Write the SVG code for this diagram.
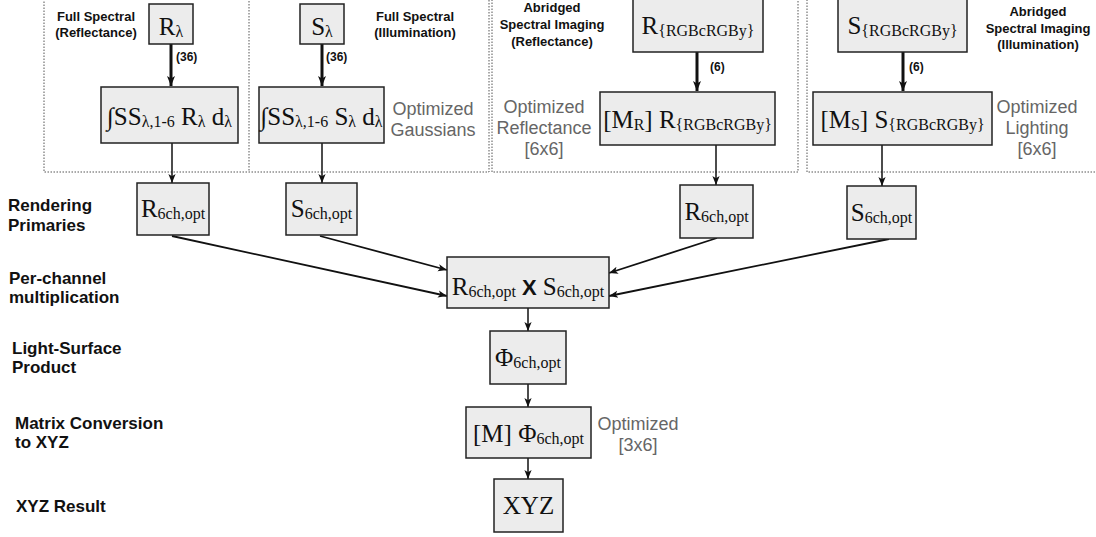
<svg xmlns="http://www.w3.org/2000/svg" width="1096" height="537" viewBox="0 0 1096 537">
<defs>
<style>
.box{fill:#ececec;stroke:#222;stroke-width:1.5}
.panel{fill:none;stroke:#555;stroke-width:1;stroke-dasharray:1.5 1.5}
.m{font-family:"Liberation Serif",serif;font-size:25px;fill:#111}
.s{font-size:16px}
.lab{font-family:"Liberation Sans",Arial,sans-serif;font-weight:bold;font-size:17px;fill:#111}
.hd{font-family:"Liberation Sans",Arial,sans-serif;font-weight:bold;font-size:13px;fill:#111;text-anchor:middle}
.gr{font-family:"Liberation Sans",Arial,sans-serif;font-size:18px;fill:#666;text-anchor:middle}
.cnt{font-family:"Liberation Sans",Arial,sans-serif;font-weight:bold;font-size:12px;fill:#111}
.thick{stroke:#111;stroke-width:3;fill:none}
.thin{stroke:#111;stroke-width:1.5;fill:none}
.diag{stroke:#111;stroke-width:1.8;fill:none}
</style>
<marker id="ah" markerUnits="userSpaceOnUse" markerWidth="10" markerHeight="10" refX="10" refY="5" viewBox="0 0 10 10" orient="auto"><path d="M0,1 L10,5 L0,9 L2.5,5 z" fill="#111"/></marker>
<marker id="ahs" markerUnits="userSpaceOnUse" markerWidth="9" markerHeight="9" refX="10" refY="5" viewBox="0 0 10 10" orient="auto"><path d="M0,1 L10,5 L0,9 L2.5,5 z" fill="#111"/></marker>
</defs>

<g id="panels">
<rect class="panel" x="44" y="-5" width="445" height="177"/>
<line class="panel" x1="249" y1="-5" x2="249" y2="172"/>
<rect class="panel" x="492" y="-5" width="306" height="177"/>
<rect class="panel" x="807" y="-5" width="300" height="177"/>
</g>

<g id="row-labels">
<text class="lab" x="8" y="211">Rendering</text>
<text class="lab" x="8" y="231">Primaries</text>
<text class="lab" x="9" y="284">Per-channel</text>
<text class="lab" x="9" y="303">multiplication</text>
<text class="lab" x="12" y="354">Light-Surface</text>
<text class="lab" x="12" y="373">Product</text>
<text class="lab" x="15" y="429">Matrix Conversion</text>
<text class="lab" x="15" y="448">to XYZ</text>
<text class="lab" x="16" y="512">XYZ Result</text>
</g>

<g id="panel-labels">
<text class="hd" x="96" y="21">Full Spectral</text>
<text class="hd" x="96" y="37">(Reflectance)</text>
<text class="hd" x="415" y="21">Full Spectral</text>
<text class="hd" x="415" y="37">(Illumination)</text>
<text class="hd" x="552" y="12">Abridged</text>
<text class="hd" x="552" y="29">Spectral Imaging</text>
<text class="hd" x="552" y="46">(Reflectance)</text>
<text class="hd" x="1038" y="16">Abridged</text>
<text class="hd" x="1038" y="33">Spectral Imaging</text>
<text class="hd" x="1038" y="49">(Illumination)</text>
<text class="gr" x="433" y="115">Optimized</text>
<text class="gr" x="433" y="136">Gaussians</text>
<text class="gr" x="544" y="113">Optimized</text>
<text class="gr" x="544" y="134">Reflectance</text>
<text class="gr" x="544" y="155">[6x6]</text>
<text class="gr" x="1037" y="113">Optimized</text>
<text class="gr" x="1037" y="134">Lighting</text>
<text class="gr" x="1037" y="155">[6x6]</text>
<text class="gr" x="638" y="430">Optimized</text>
<text class="gr" x="638" y="451">[3x6]</text>
</g>

<g id="connectors">
<line class="thick" x1="171" y1="44" x2="171" y2="86" marker-end="url(#ah)"/>
<line class="thick" x1="322" y1="44" x2="322" y2="86" marker-end="url(#ah)"/>
<line class="thick" x1="697" y1="52" x2="697" y2="91" marker-end="url(#ah)"/>
<line class="thick" x1="903" y1="52" x2="903" y2="91" marker-end="url(#ah)"/>
<text class="cnt" x="176" y="61">(36)</text>
<text class="cnt" x="326" y="61">(36)</text>
<text class="cnt" x="710" y="71">(6)</text>
<text class="cnt" x="909" y="71">(6)</text>
<line class="thin" x1="172" y1="143" x2="172" y2="183" marker-end="url(#ahs)"/>
<line class="thin" x1="322" y1="143" x2="322" y2="183" marker-end="url(#ahs)"/>
<line class="thin" x1="716" y1="145" x2="716" y2="185" marker-end="url(#ahs)"/>
<line class="thin" x1="882" y1="145" x2="882" y2="186" marker-end="url(#ahs)"/>
<line class="diag" x1="172" y1="236" x2="447" y2="296" marker-end="url(#ahs)"/>
<line class="diag" x1="320" y1="236" x2="447" y2="270" marker-end="url(#ahs)"/>
<line class="diag" x1="717" y1="238" x2="609" y2="273" marker-end="url(#ahs)"/>
<line class="diag" x1="889" y1="239" x2="609" y2="296" marker-end="url(#ahs)"/>
<line class="thin" x1="528" y1="308" x2="528" y2="331" marker-end="url(#ahs)"/>
<line class="thin" x1="528" y1="384" x2="528" y2="407" marker-end="url(#ahs)"/>
<line class="thin" x1="528" y1="458" x2="528" y2="479" marker-end="url(#ahs)"/>
</g>

<g id="n-Rlambda">
<rect class="box" x="149" y="4" width="44" height="40"/>
<text class="m" x="171" y="35" text-anchor="middle">R<tspan class="s" dy="2">λ</tspan></text>
</g>
<g id="n-Slambda">
<rect class="box" x="300" y="4" width="44" height="40"/>
<text class="m" x="322" y="35" text-anchor="middle">S<tspan class="s" dy="2">λ</tspan></text>
</g>
<g id="n-intR">
<rect class="box" x="101" y="87" width="137" height="56"/>
<text class="m" x="169.5" y="125" text-anchor="middle">∫SS<tspan class="s" dy="2">λ,1-6</tspan><tspan dy="-2"> R</tspan><tspan class="s" dy="2">λ</tspan><tspan dy="-2"> d</tspan><tspan class="s" dy="2">λ</tspan></text>
</g>
<g id="n-intS">
<rect class="box" x="259" y="87" width="125" height="56"/>
<text class="m" x="321.5" y="125" text-anchor="middle">∫SS<tspan class="s" dy="2">λ,1-6</tspan><tspan dy="-2"> S</tspan><tspan class="s" dy="2">λ</tspan><tspan dy="-2"> d</tspan><tspan class="s" dy="2">λ</tspan></text>
</g>
<g id="n-Rrgb">
<rect class="box" x="633" y="-1" width="130" height="53"/>
<text class="m" x="698" y="34" text-anchor="middle">R<tspan class="s" dy="2">{RGBcRGBy}</tspan></text>
</g>
<g id="n-MR">
<rect class="box" x="600" y="92" width="175" height="53"/>
<text class="m" x="687.5" y="128" text-anchor="middle">[M<tspan class="s" dy="2">R</tspan><tspan dy="-2">] R</tspan><tspan class="s" dy="2">{RGBcRGBy}</tspan></text>
</g>
<g id="n-Srgb">
<rect class="box" x="838" y="-1" width="129" height="53"/>
<text class="m" x="902.5" y="34" text-anchor="middle">S<tspan class="s" dy="2">{RGBcRGBy}</tspan></text>
</g>
<g id="n-MS">
<rect class="box" x="813" y="92" width="179" height="53"/>
<text class="m" x="902.5" y="128" text-anchor="middle">[M<tspan class="s" dy="2">S</tspan><tspan dy="-2">] S</tspan><tspan class="s" dy="2">{RGBcRGBy}</tspan></text>
</g>
<g id="n-R1">
<rect class="box" x="137" y="183" width="72" height="52"/>
<text class="m" x="173" y="217" text-anchor="middle">R<tspan class="s" dy="2">6ch,opt</tspan></text>
</g>
<g id="n-S1">
<rect class="box" x="286" y="183" width="71" height="52"/>
<text class="m" x="321.5" y="217" text-anchor="middle">S<tspan class="s" dy="2">6ch,opt</tspan></text>
</g>
<g id="n-R2">
<rect class="box" x="680" y="185" width="73" height="53"/>
<text class="m" x="716.5" y="220" text-anchor="middle">R<tspan class="s" dy="2">6ch,opt</tspan></text>
</g>
<g id="n-S2">
<rect class="box" x="847" y="186" width="69" height="53"/>
<text class="m" x="881.5" y="221" text-anchor="middle">S<tspan class="s" dy="2">6ch,opt</tspan></text>
</g>
<g id="n-product">
<rect class="box" x="447" y="257" width="162" height="51"/>
<text class="m" x="528" y="295" text-anchor="middle">R<tspan class="s" dy="2">6ch,opt</tspan><tspan dy="-2" font-family="Liberation Sans, Arial, sans-serif" font-weight="bold" font-size="22"> X </tspan>S<tspan class="s" dy="2">6ch,opt</tspan></text>
</g>
<g id="n-phi">
<rect class="box" x="490" y="331" width="76" height="53"/>
<text class="m" x="528" y="366" text-anchor="middle">Φ<tspan class="s" dy="2">6ch,opt</tspan></text>
</g>
<g id="n-M">
<rect class="box" x="466" y="407" width="125" height="51"/>
<text class="m" x="528.5" y="442" text-anchor="middle">[M] Φ<tspan class="s" dy="2">6ch,opt</tspan></text>
</g>
<g id="n-XYZ">
<rect class="box" x="494" y="479" width="69" height="53"/>
<text class="m" x="528.5" y="514" text-anchor="middle">XYZ</text>
</g>
</svg>
